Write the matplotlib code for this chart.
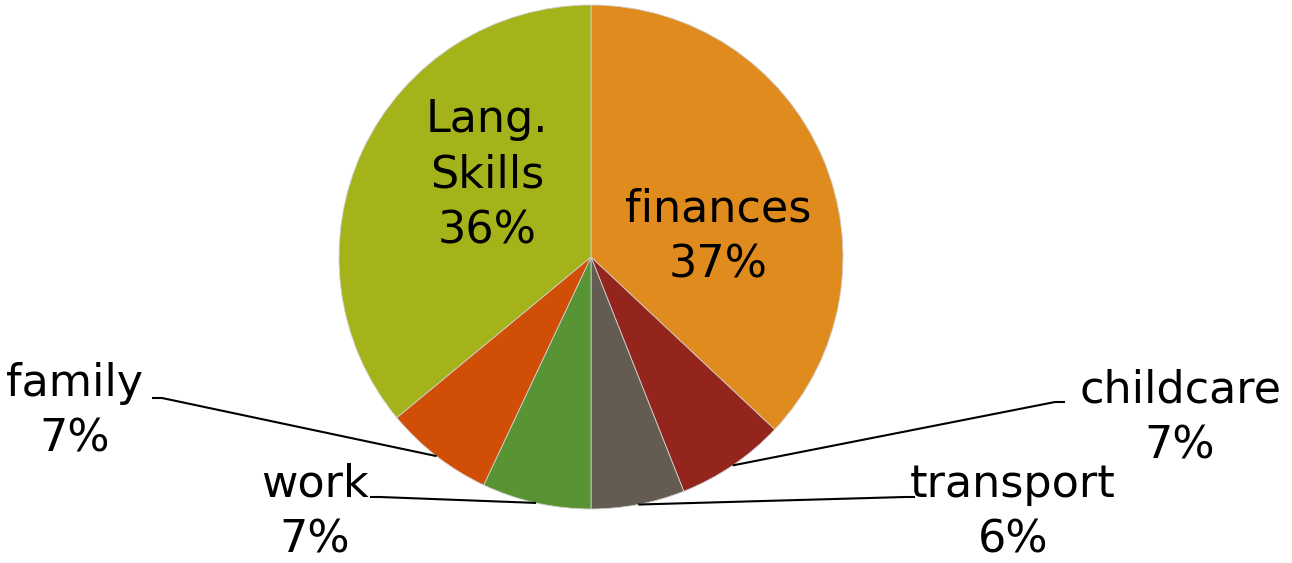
import numpy as np
import matplotlib
matplotlib.use('Agg')
import matplotlib.pyplot as plt

# data
labels = ['finances', 'childcare', 'transport', 'work', 'family', 'Lang.\nSkills']
values = [37, 7, 6, 7, 7, 36]
colors = ['#E08B1E', '#94251C', '#645B51', '#589434', '#D04E06', '#A4B319']

# layout (pixels in a 1292x563 canvas)
W, H = 1292, 563
cx, cy, R = 591, 257, 252
# label centre for each slice, and the elbow of the leader (None = inside)
label_pos = [(718, 237), (1180, 418), (1013, 512), (315, 512), (75, 411), (487, 175)]
elbows = [None, (1055, 402), (905, 497), (380, 497), (162, 398), None]
stub = 10


def px(x, y):
    return (x - cx) / R, (cy - y) / R


fig = plt.figure(figsize=(W / 100, H / 100), dpi=100)
ax = fig.add_axes([0, 0, 1, 1])

wedges, _ = ax.pie(values, colors=colors, startangle=90, counterclock=False,
                   radius=1, wedgeprops=dict(edgecolor='#cfcfcf', linewidth=0.6))
ax.set_xlim(px(0, 0)[0], px(W, 0)[0])
ax.set_ylim(px(0, H)[1], px(0, 0)[1])
ax.axis('off')

total = sum(values)
start = 0.0
for i, (lab, v) in enumerate(zip(labels, values)):
    mid = np.deg2rad((start + v / 2) / total * 360)
    start += v
    text = f'{lab}\n{v}%'
    tx, ty = px(*label_pos[i])
    ax.text(tx, ty, text, ha='center', va='center', fontsize=32,
            family='DejaVu Sans', linespacing=1.38, color='black')
    if elbows[i] is not None:
        ax_x, ax_y = np.sin(mid) * 1.0, np.cos(mid) * 1.0
        ex, ey = px(*elbows[i])
        side = 1 if ex > 0 else -1
        sx = ex + side * stub / R
        ax.plot([ax_x, ex, sx], [ax_y, ey, ey], color='black', lw=1.5,
                solid_capstyle='butt')

fig.savefig('out.png', dpi=100)
